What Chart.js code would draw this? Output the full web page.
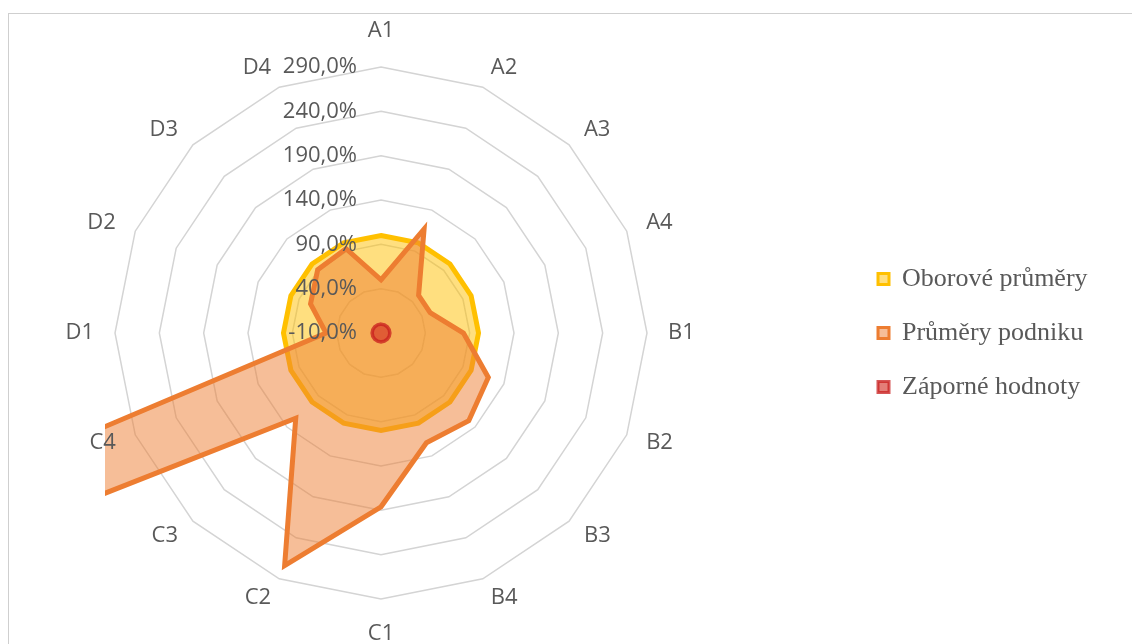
<!DOCTYPE html>
<html lang="cs">
<head>
<meta charset="utf-8">
<title>Radar - oborové průměry</title>
<script src="https://cdn.jsdelivr.net/npm/chart.js@4.4.1/dist/chart.umd.min.js"></script>
<style>
  html, body { margin: 0; padding: 0; background: #fff; overflow: hidden; }
  #frame {
    position: absolute; left: 8px; top: 13px; width: 1200px; height: 700px;
    border-top: 1px solid #cfcfcf; border-left: 1px solid #cfcfcf;
  }
  /* canvas starts left of the window so the radar sits off-centre like the original */
  #wrap { position: absolute; left: -88px; top: 0; width: 1220px; height: 644px; }
</style>
</head>
<body>
<div id="frame"></div>
<div id="wrap"><canvas id="radarCanvas"></canvas></div>
<script>
const categories = ['A1', 'A2', 'A3', 'A4', 'B1', 'B2', 'B3', 'B4',
                    'C1', 'C2', 'C3', 'C4', 'D1', 'D2', 'D3', 'D4'];
const tickLabels = ['-10,0%', '40,0%', '90,0%', '140,0%', '190,0%', '240,0%', '290,0%'];
const seriesNames = ['Oborové průměry', 'Průměry podniku', 'Záporné hodnoty'];

const oborovePrumery = [100, 100, 100, 100, 100, 100, 100, 100,
                        100, 100, 100, 100, 100, 100, 100, 100];
// C4 is far beyond the axis maximum, the band runs off the plot area
const prumeryPodniku = [50, 117, 50, 50, 83, 121, 130, 124,
                        186, 274, 126, 3000, 52, 76, 91, 93];
const zaporneHodnoty = [0, 0, 0, 0, 0, 0, 0, 0,
                        0, 0, 0, 0, 0, 0, 0, 0];

const textColor = '#595959';
const labelFont = '22px "Open Sans"';

// clips the series to the plot area, then writes tick and category labels on top
const radarLabels = {
    id: 'radarLabels',
    beforeDatasetsDraw(chart) {
        const r = chart.scales.r;
        const half = r.drawingArea + 10;
        const ctx = chart.ctx;
        ctx.save();
        ctx.beginPath();
        ctx.rect(r.xCenter - half, r.yCenter - half, half * 2, half * 2);
        ctx.clip();
    },
    afterDatasetsDraw(chart) {
        const r = chart.scales.r;
        const ctx = chart.ctx;
        ctx.restore();
        ctx.save();
        ctx.font = labelFont;
        ctx.fillStyle = textColor;
        ctx.textAlign = 'right';
        ctx.textBaseline = 'middle';
        r.ticks.forEach(tick => {
            const y = r.yCenter - r.getDistanceFromCenterForValue(tick.value);
            ctx.fillText(tick.label, r.xCenter - 24, y);
        });
        // labels hang off a point just outside the outer ring, Excel style
        categories.forEach((name, i) => {
            const p = r.getPointPosition(i, r.drawingArea + 21);
            const dx = p.x - r.xCenter;
            const dy = p.y - r.yCenter;
            let y = p.y;
            if (Math.abs(dx) < 1) {
                ctx.textAlign = 'center';
                y += dy < 0 ? -15 : 14;
            } else {
                ctx.textAlign = dx > 0 ? 'left' : 'right';
            }
            ctx.fillText(name, p.x, y);
        });
        ctx.restore();
    }
};

const ctx = document.getElementById('radarCanvas').getContext('2d');

new Chart(ctx, {
    type: 'radar',
    data: {
        labels: categories,
        datasets: [{
            label: seriesNames[0],
            data: oborovePrumery,
            borderColor: '#FFC000',
            backgroundColor: 'rgba(255, 192, 0, 0.5)',
            borderWidth: 5,
            fill: 'start',
            order: 2
        }, {
            label: seriesNames[1],
            data: prumeryPodniku,
            borderColor: '#ED7D31',
            backgroundColor: 'rgba(237, 125, 49, 0.5)',
            borderWidth: 5,
            fill: 'start',
            order: 1
        }, {
            label: seriesNames[2],
            data: zaporneHodnoty,
            borderColor: 'rgba(200, 30, 30, 0.75)',
            backgroundColor: 'rgba(210, 40, 30, 0.6)',
            borderWidth: 3.5,
            fill: 'start',
            order: 0
        }]
    },
    options: {
        responsive: true,
        maintainAspectRatio: false,
        animation: false,
        layout: {
            padding: { left: 0, right: 42, top: 67, bottom: 45 }
        },
        elements: {
            point: { radius: 0, hoverRadius: 0 },
            line: { tension: 0 }
        },
        scales: {
            r: {
                min: -10,
                max: 290,
                ticks: {
                    stepSize: 50,
                    display: false,
                    callback: (value, index) => tickLabels[index]
                },
                grid: { color: '#d4d4d4', lineWidth: 1.5 },
                angleLines: { display: false },
                pointLabels: { display: false }
            }
        },
        plugins: {
            tooltip: { enabled: false },
            legend: {
                position: 'right',
                align: 'center',
                maxWidth: 240,
                labels: {
                    boxWidth: 11,
                    boxHeight: 11,
                    padding: 28,
                    color: textColor,
                    font: { family: '"Liberation Serif", "Times New Roman", serif', size: 26 },
                    sort: (a, b) => a.datasetIndex - b.datasetIndex,
                    generateLabels: chart =>
                        Chart.defaults.plugins.legend.labels.generateLabels(chart)
                            .map(item => ({ ...item, lineWidth: 3 }))
                }
            }
        }
    },
    plugins: [radarLabels]
});
</script>
</body>
</html>
